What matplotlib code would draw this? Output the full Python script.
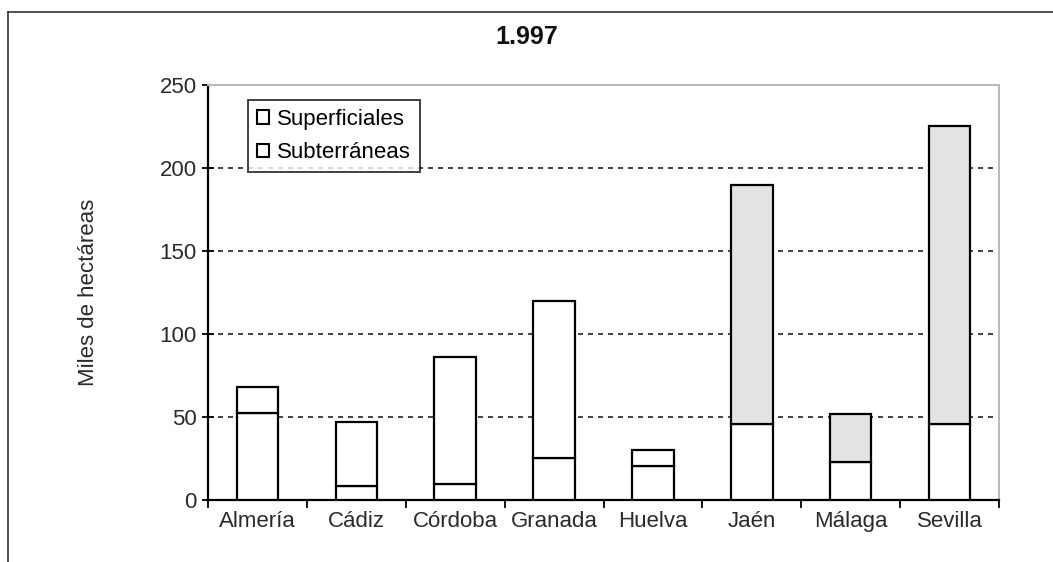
import matplotlib
matplotlib.use("Agg")
import matplotlib.pyplot as plt
from matplotlib.patches import Patch

categories = ["Almería", "Cádiz", "Córdoba", "Granada", "Huelva", "Jaén", "Málaga", "Sevilla"]
subterraneas = [52.5, 8.5, 9.5, 25.5, 20.5, 46, 23, 46]
totales = [68, 47, 86, 120, 30, 190, 52, 225]
superficiales = [t - s for t, s in zip(totales, subterraneas)]
yticks = [0, 50, 100, 150, 200, 250]

plt.rcParams['font.family'] = ["Liberation Sans", "DejaVu Sans"]

W, H = 1053, 562
fig = plt.figure(figsize=(W / 100, H / 100), dpi=100)
ax = fig.add_axes([208 / W, 1 - 500 / H, (999 - 208) / W, (500 - 85) / H])

x = list(range(len(categories)))
top_colors = ["white"] * 5 + ["#e3e3e3"] * 3
ax.bar(x, subterraneas, width=0.42, color="white", edgecolor="black", linewidth=1.6, zorder=3)
ax.bar(x, superficiales, bottom=subterraneas, width=0.42, color=top_colors, edgecolor="black", linewidth=1.6, zorder=3)

ax.set_xlim(-0.5, len(categories) - 0.5)
ax.set_ylim(0, 250)
ax.set_yticks(yticks)
ax.set_yticklabels([str(v) for v in yticks], fontsize=16, color="#2a2a2a")
ax.set_xticks(x)
ax.set_xticklabels(categories, fontsize=16, color="#2a2a2a")
ax.tick_params(axis="x", length=0, pad=8)
ax.tick_params(axis="y", direction="inout", length=8, width=1.3, pad=4)
for b in [i - 0.5 for i in range(len(categories) + 1)]:
    ax.plot([b, b], [0, -4], color="black", lw=1.3, clip_on=False, zorder=4)

for v in yticks[1:-1]:
    ax.axhline(v, color="#222222", lw=1.2, ls=(0, (3, 3)), zorder=1)

for s in ["top", "right"]:
    ax.spines[s].set_color("#bbbbbb")
    ax.spines[s].set_linewidth(1.5)
for s in ["left", "bottom"]:
    ax.spines[s].set_color("black")
    ax.spines[s].set_linewidth(1.6)

ax.set_ylabel("Miles de hectáreas", fontsize=16, color="#2a2a2a", labelpad=44)

handles = [Patch(facecolor="white", edgecolor="black", linewidth=1.5, label="Superficiales"),
           Patch(facecolor="white", edgecolor="black", linewidth=1.5, label="Subterráneas")]
leg = ax.legend(handles=handles, loc="upper left", bbox_to_anchor=((248 - 208) / (999 - 208), 1 - (100 - 85) / 415),
                fontsize=16, frameon=True, fancybox=False, edgecolor="black", handlelength=0.55, handleheight=0.55,
                handletextpad=0.35, borderpad=0.4, labelspacing=0.55, borderaxespad=0)
leg.get_frame().set_linewidth(1.3)
leg.set_zorder(5)

fig.text(0.5, 1 - 37 / H, "1.997", ha="center", va="center", fontsize=18, fontweight="bold", color="#111111")

fig.add_artist(plt.Line2D([8 / W, 8 / W], [0, 1 - 12 / H], color="#333333", lw=1.2))
fig.add_artist(plt.Line2D([8 / W, 1], [1 - 12 / H, 1 - 12 / H], color="#333333", lw=1.2))

fig.savefig("out.png", dpi=100)
